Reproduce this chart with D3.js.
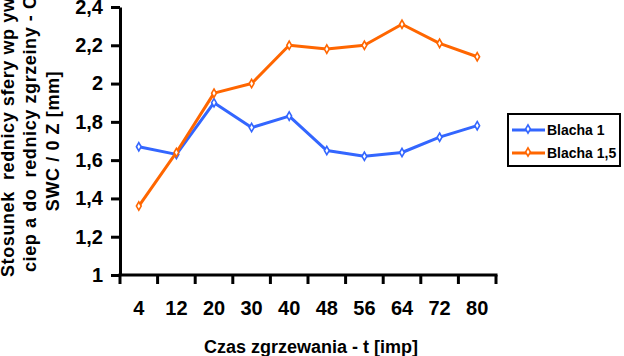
<!DOCTYPE html>
<html><head><meta charset="utf-8">
<script src="https://cdn.jsdelivr.net/npm/d3@7"></script>
<style>
html,body{margin:0;padding:0;background:#fff;}
svg{display:block;font-family:"Liberation Sans",Arial,sans-serif;font-weight:bold;}
</style></head><body>
<svg id="c" width="624" height="356"></svg>
<script>
const categories = ["4","12","20","30","40","48","56","64","72","80"];
const blacha1 = [1.67,1.63,1.90,1.77,1.83,1.65,1.62,1.64,1.72,1.78];
const blacha15 = [1.36,1.64,1.95,2.00,2.20,2.18,2.20,2.31,2.21,2.14];
const yTicks = [1,1.2,1.4,1.6,1.8,2,2.2,2.4];
const seriesNames = ["Blacha 1","Blacha 1,5"];
const colors = ["#3366ff","#ff6600"];
const yTitleLines = ["Stosunek  rednicy sfery wp ywu","ciep a do  rednicy zgrzeiny - C","SWC / 0 Z [mm]"];
const xTitle = "Czas zgrzewania - t [imp]";

const svg = d3.select("#c");
const x = d3.scaleBand().domain(categories).range([120,496]).padding(0);
const y = d3.scaleLinear().domain([1,2.4]).range([275,7]);
const fmt = d => String(d).replace(".",",");

// y axis
const ya = svg.append("g").attr("transform","translate(120,0)")
  .call(d3.axisLeft(y).tickValues(yTicks).tickFormat(fmt).tickSize(9).tickSizeOuter(0).tickPadding(8));
ya.select(".domain").attr("stroke","#000").attr("stroke-width",3);
ya.selectAll(".tick line").attr("stroke","#000").attr("stroke-width",3);
ya.selectAll(".tick text").attr("font-size",20).attr("font-weight","bold").attr("font-family","Liberation Sans, Arial, sans-serif").attr("fill","#000");

// x axis
const xa = svg.append("g").attr("transform","translate(0,275)")
  .call(d3.axisBottom(x).tickSize(0).tickSizeOuter(0).tickPadding(26));
xa.select(".domain").remove();
xa.selectAll(".tick text").attr("font-size",20).attr("font-weight","bold").attr("font-family","Liberation Sans, Arial, sans-serif").attr("fill","#000");
const edges = categories.map(c=>x(c)).concat([x.range()[1]]);
svg.append("line").attr("x1",x.range()[0]-1.5).attr("x2",x.range()[1]+1.5).attr("y1",275).attr("y2",275).attr("stroke","#000").attr("stroke-width",3);
svg.selectAll("line.xt").data(edges).enter().append("line").attr("class","xt")
  .attr("x1",d=>d).attr("x2",d=>d).attr("y1",275).attr("y2",284).attr("stroke","#000").attr("stroke-width",3);

// titles
svg.append("text").attr("x",(x.range()[0]+x.range()[1])/2+3).attr("y",353).attr("text-anchor","middle")
  .attr("font-size",18).attr("fill","#000").text(xTitle);
const yt = [{b:14,anchor:"start",pos:277},{b:36,anchor:"start",pos:272},{b:59,anchor:"middle",pos:141}];
yTitleLines.forEach((t,i)=>{
  svg.append("text").attr("transform",`translate(${yt[i].b},${yt[i].pos}) rotate(-90)`)
    .attr("text-anchor",yt[i].anchor).attr("font-size",18).attr("fill","#000")
    .attr("letter-spacing","0.6px")
    .style("white-space","pre").text(t);
});

// lines
const line = d3.line().x((d,i)=>x(categories[i])+x.bandwidth()/2).y(d=>y(d));
const marker = d3.symbol().type(d3.symbolDiamond).size(20);
[blacha1,blacha15].forEach((s,k)=>{
  svg.append("path").datum(s).attr("d",line).attr("fill","none").attr("stroke",colors[k]).attr("stroke-width",3).attr("stroke-linejoin","round");
  svg.selectAll("path.m"+k).data(s).enter().append("path").attr("class","m"+k)
    .attr("d",marker).attr("transform",(d,i)=>`translate(${x(categories[i])+x.bandwidth()/2},${y(d)})`)
    .attr("fill","#fff").attr("stroke",colors[k]).attr("stroke-width",1.6);
});

// legend
const lg = svg.append("g");
lg.append("rect").attr("x",508).attr("y",114).attr("width",112).attr("height",52).attr("fill","#fff").attr("stroke","#000").attr("stroke-width",2);
seriesNames.forEach((n,k)=>{
  const yy = 130 + k*23;
  lg.append("line").attr("x1",512).attr("x2",545).attr("y1",yy).attr("y2",yy).attr("stroke",colors[k]).attr("stroke-width",3);
  lg.append("path").attr("d",marker).attr("transform",`translate(528,${yy-1})`).attr("fill","#fff").attr("stroke",colors[k]).attr("stroke-width",1.6);
  lg.append("text").attr("x",547).attr("y",yy+5).attr("font-size",14).attr("fill","#000").text(n);
});
</script></body></html>
